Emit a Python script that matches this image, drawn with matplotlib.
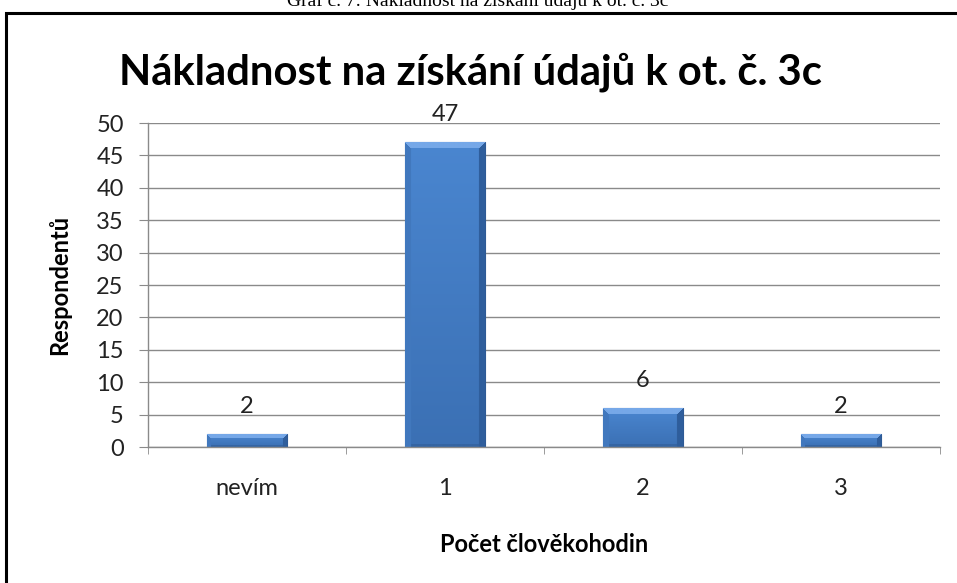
import numpy as np
import matplotlib
matplotlib.use("Agg")
from matplotlib import pyplot as plt
from matplotlib.patches import Rectangle

categories = ["nevím", "1", "2", "3"]
values = [2, 47, 6, 2]
yticks = list(range(0, 55, 5))

caption = "Graf č. 7: Nákladnost na získání údajů k ot. č. 3c"
title = "Nákladnost na získání údajů k ot. č. 3c"
xlabel = "Počet člověkohodin"
ylabel = "Respondentů"

FONT = ["Lato", "DejaVu Sans"]
plt.rcParams["font.family"] = FONT


def hexrgb(h):
	h = h.lstrip("#")
	return np.array([int(h[i:i + 2], 16) / 255 for i in (0, 2, 4)])


def BevelImage(wpx, hpx):
	# front face with soft vertical shading, light top bevel, darker sides/bottom
	wpx = max(int(round(wpx)), 4)
	hpx = max(int(round(hpx)), 4)
	face_top = hexrgb("#4a86d0")
	face_bot = hexrgb("#3b70b4")
	t = np.linspace(0, 1, hpx)[:, None, None]
	img = face_top * (1 - t) + face_bot * t
	img = np.repeat(img, wpx, axis=1)
	b = min(6, hpx // 3, wpx // 6)
	yy, xx = np.mgrid[0:hpx, 0:wpx]
	top = (yy < b) & (xx >= yy) & (xx < wpx - yy)
	left = (xx < b) & ~top
	right = (xx >= wpx - b) & ~top
	bottom = (yy >= hpx - max(b // 2, 1)) & ~left & ~right
	img[top] = hexrgb("#76a8e8")
	img[left] = hexrgb("#4178be")
	img[right] = hexrgb("#2f5e9c")
	img[bottom] = hexrgb("#3565a3")
	return img


fig = plt.figure(figsize=(9.57, 5.83), dpi=100)
fig.patch.set_facecolor("white")

# frame of the chart (right and bottom edges fall outside the crop)
fig.add_artist(Rectangle((6 / 957, -0.05), 1.0, 1 - 13 / 583 + 0.05,
	transform=fig.transFigure, fill=False, edgecolor="black", linewidth=2.2))
fig.text(478 / 957, 1 - 6.5 / 583, caption, ha="center", va="baseline",
	fontsize=14, family=["Liberation Serif", "DejaVu Serif"])

ax = fig.add_axes([148 / 957, 136 / 583, 792 / 957, 324 / 583])
ax.set_xlim(-0.5, len(categories) - 0.5)
ax.set_ylim(0, 50)
ax.set_yticks(yticks)
ax.set_xticks(range(len(categories)))
ax.set_xticklabels(categories)
ax.set_xticks(np.arange(-0.5, len(categories), 1.0), minor=True)

ax.grid(axis="y", color="#8a8a8a", linewidth=1.0)
ax.set_axisbelow(True)
for s in ("top", "right"):
	ax.spines[s].set_visible(False)
for s in ("left", "bottom"):
	ax.spines[s].set_color("#8a8a8a")
	ax.spines[s].set_linewidth(1.0)

ax.tick_params(axis="y", direction="out", length=6.5, color="#8a8a8a",
	labelsize=17, pad=11, labelcolor="#222222")
ax.tick_params(axis="x", which="major", length=0, labelsize=17, pad=22,
	labelcolor="#222222")
ax.tick_params(axis="x", which="minor", direction="out", length=5,
	color="#8a8a8a")

ax.set_ylabel(ylabel, fontsize=17, fontweight="bold", va="center")
ax.yaxis.set_label_coords((60 - 148) / 792, 0.5)
ax.set_xlabel(xlabel, fontsize=17, fontweight="bold", va="center")
ax.xaxis.set_label_coords(0.5, (447 - 545) / 324)

bars = ax.bar(range(len(categories)), values, width=0.4, color="#4079c0",
	edgecolor="#2e5a95", linewidth=0.8, zorder=2)

fig.canvas.draw()
for rect in bars:
	x0, y0 = rect.get_x(), rect.get_y()
	w, h = rect.get_width(), rect.get_height()
	p0 = ax.transData.transform((x0, y0))
	p1 = ax.transData.transform((x0 + w, y0 + h))
	img = BevelImage(p1[0] - p0[0], p1[1] - p0[1])
	im = ax.imshow(img, extent=(x0, x0 + w, y0, y0 + h), aspect="auto",
		interpolation="bilinear", zorder=2.5)
	im.set_clip_path(rect)

for i, v in enumerate(values):
	ax.annotate(str(v), (i, v), xytext=(0, 20), textcoords="offset points",
		ha="center", va="center", fontsize=17, color="#222222")

ax.set_aspect("auto")
ax.set_xlim(-0.5, len(categories) - 0.5)
ax.set_ylim(0, 50)

fig.text(470 / 957, 1 - 72 / 583, title, ha="center", va="center",
	fontsize=30.2, fontweight="bold")

fig.savefig("out.png", dpi=100)
